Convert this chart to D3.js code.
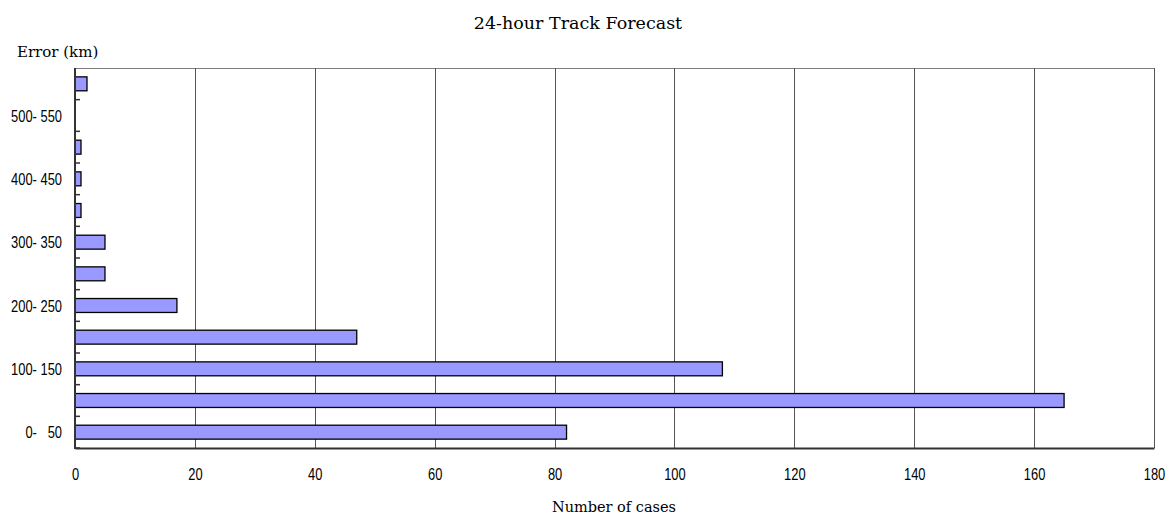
<!DOCTYPE html>
<html><head><meta charset="utf-8">
<script src="https://cdn.jsdelivr.net/npm/d3@7"></script>
<style>
body{margin:0;background:#fff;}
text{white-space:pre;}
</style></head>
<body>
<svg id="c" width="1173" height="518"></svg>
<script>
const categories = ["0-   50","50-100","100- 150","150-200","200- 250","250-300","300- 350","350-400","400- 450","450-500","500- 550","550-"];
const shownLabels = ["0-   50","100- 150","200- 250","300- 350","400- 450","500- 550"];
const values = [82,165,108,47,17,5,5,1,1,1,0,2];
const xTicks = [0,20,40,60,80,100,120,140,160,180];
const title = "24-hour Track Forecast";
const yTitle = "Error (km)";
const xTitle = "Number of cases";

const svg = d3.select("#c");
const m = {l:75, r:1154, t:68, b:448};
const sans = "'Liberation Sans',Arial,sans-serif";
const serif = "'DejaVu Serif','Century Schoolbook',serif";
const SX = 0.76;

const x = d3.scaleLinear().domain([0,180]).range([m.l,m.r]);
const y = d3.scaleBand().domain(categories).range([m.b,m.t]).paddingInner(0.56).paddingOuter(0.28);

// top border
svg.append("line").attr("x1",m.l).attr("x2",m.r).attr("y1",m.t+0.5).attr("y2",m.t+0.5)
  .attr("stroke","#808080").attr("stroke-width",1);
// gridlines
svg.append("g").selectAll("line").data(xTicks.filter(d=>d>0)).join("line")
  .attr("x1",d=>Math.round(x(d))+0.5).attr("x2",d=>Math.round(x(d))+0.5)
  .attr("y1",m.t).attr("y2",m.b).attr("stroke","#555").attr("stroke-width",1);

// bars
const barData = values.map((v,i)=>({c:categories[i],v})).filter(d=>d.v>0);
svg.append("g").selectAll("rect").data(barData).join("rect")
  .attr("x",x(0)).attr("y",d=>y(d.c)).attr("width",d=>x(d.v)-x(0)).attr("height",y.bandwidth())
  .attr("fill","#9999ff").attr("stroke","#000").attr("stroke-width",1.3);

// x axis
const xa = svg.append("g").attr("transform",`translate(0,${m.b})`)
  .call(d3.axisBottom(x).tickValues(xTicks).tickSize(0).tickFormat(""));
xa.select(".domain").attr("stroke","#333").attr("stroke-width",2);
xa.selectAll(".tick").append("text")
  .attr("transform","translate(0,32) scale("+SX+",1)")
  .attr("text-anchor","middle").attr("font-family",sans).attr("font-size",17).attr("fill","#000")
  .text(d=>d);

// y axis: boundary ticks
const bstep = (m.b-m.t)/categories.length;
const ya = svg.append("g");
ya.append("line").attr("x1",m.l).attr("x2",m.l).attr("y1",m.t).attr("y2",m.b+1).attr("stroke","#333").attr("stroke-width",2);
ya.selectAll("line.tk").data(d3.range(0,categories.length)).join("line").attr("class","tk")
  .attr("x1",m.l).attr("x2",m.l+5).attr("y1",i=>m.b-i*bstep).attr("y2",i=>m.b-i*bstep)
  .attr("stroke","#333").attr("stroke-width",1.5);
ya.selectAll("text").data(shownLabels).join("text")
  .attr("transform",d=>`translate(62,${y(d)+y.bandwidth()/2+6}) scale(${SX},1)`)
  .attr("text-anchor","end").attr("font-family",sans).attr("font-size",17).text(d=>d);

svg.append("text").attr("x",578).attr("y",29).attr("text-anchor","middle")
  .attr("font-family",serif).attr("font-size",17.5).text(title);
svg.append("text").attr("x",17).attr("y",57)
  .attr("font-family",serif).attr("font-size",15).text(yTitle);
svg.append("text").attr("x",614).attr("y",512).attr("text-anchor","middle")
  .attr("font-family",serif).attr("font-size",14.5).text(xTitle);
</script>
</body></html>
